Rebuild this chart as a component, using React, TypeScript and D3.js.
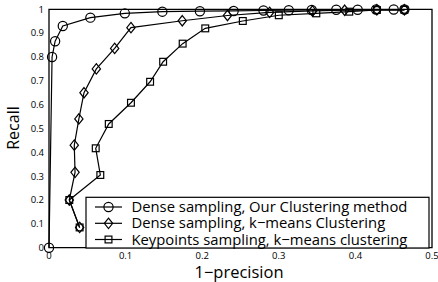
import React from "react";
import * as d3 from "d3";

const xTicks = [0, 0.1, 0.2, 0.3, 0.4, 0.5];
const xTickLabels = ["0", "0.1", "0.2", "0.3", "0.4", "0.5"];
const yTicks = [0, 0.1, 0.2, 0.3, 0.4, 0.5, 0.6, 0.7, 0.8, 0.9, 1];
const yTickLabels = ["0", "0.1", "0.2", "0.3", "0.4", "0.5", "0.6", "0.7", "0.8", "0.9", "1"];

const seriesNames = [
  "Dense sampling, Our Clustering method",
  "Dense sampling, k\u2212means Clustering",
  "Keypoints sampling, k\u2212means clustering",
];
const seriesMarkers = ["circle", "diamond", "square"];

const ourX = [0, 0.004, 0.008, 0.018, 0.054, 0.099, 0.148, 0.197, 0.241, 0.28, 0.313, 0.343, 0.375, 0.403, 0.427, 0.45, 0.464];
const ourY = [0, 0.8, 0.866, 0.93, 0.965, 0.983, 0.99, 0.992, 0.993, 0.995, 0.996, 0.997, 0.998, 0.998, 0.999, 0.999, 0.999];

const kmX = [0.04, 0.0265, 0.034, 0.033, 0.039, 0.0457, 0.0618, 0.0857, 0.107, 0.174, 0.233, 0.288, 0.344, 0.386, 0.428, 0.464];
const kmY = [0.085, 0.2, 0.316, 0.43, 0.54, 0.65, 0.75, 0.836, 0.923, 0.952, 0.974, 0.987, 0.993, 0.996, 0.998, 0.998];

const kpX = [0.04, 0.0265, 0.067, 0.061, 0.078, 0.107, 0.132, 0.149, 0.1745, 0.204, 0.253, 0.3, 0.349, 0.392, 0.428, 0.464];
const kpY = [0.085, 0.2, 0.305, 0.417, 0.519, 0.608, 0.696, 0.78, 0.856, 0.92, 0.951, 0.975, 0.983, 0.99, 0.997, 0.998];

const seriesX = [ourX, kmX, kpX];
const seriesY = [ourY, kmY, kpY];

const W = 438;
const H = 282;
const FONT = "'Open Sans', 'DejaVu Sans', sans-serif";

function Marker({ type, cx, cy }: { type: string; cx: number; cy: number }) {
  const common = { fill: "none", stroke: "#000", strokeWidth: 1.2 };
  if (type === "circle") return <circle cx={cx} cy={cy} r={4.6} {...common} />;
  if (type === "diamond") {
    const r = 5.2;
    return <path d={`M${cx},${cy - r}L${cx + r * 0.8},${cy}L${cx},${cy + r}L${cx - r * 0.8},${cy}Z`} {...common} />;
  }
  const s = 3.4;
  return <rect x={cx - s} y={cy - s} width={2 * s} height={2 * s} {...common} />;
}

export default function App() {
  const x = d3.scaleLinear().domain([0, 0.5]).range([49, 432]);
  const y = d3.scaleLinear().domain([0, 1]).range([247.7, 9.3]);
  const line = d3
    .line<[number, number]>()
    .x((d) => x(d[0]))
    .y((d) => y(d[1]));

  const legendX = 86;
  const legendY = 197.3;
  const legendW = 343;
  const legendH = 50.7;
  const rowYs = [207, 223.3, 239.5];

  return (
    <svg width={W} height={H} style={{ position: "absolute", left: 0, top: 0 }} fontFamily={FONT}>
      <rect x={0} y={0} width={W} height={H} fill="#fff" />
      <path
        d={`M${x(0)},${y(0)}L${x(0)},${y(1)}L${x(0.5)},${y(1)}L${x(0.5)},${y(0)}Z`}
        fill="none"
        stroke="#000"
        strokeWidth={1.3}
      />
      {seriesX.map((xs, i) => {
        const pts = xs.map((v, j) => [v, seriesY[i][j]] as [number, number]);
        return (
          <g key={i}>
            <path d={line(pts) || ""} fill="none" stroke="#000" strokeWidth={1.2} />
            {pts.map((p, j) => (
              <Marker key={j} type={seriesMarkers[i]} cx={x(p[0])} cy={y(p[1])} />
            ))}
          </g>
        );
      })}
      {yTicks.map((t, i) => (
        <text key={i} x={x(0) - 5} y={y(t)} dy="0.35em" textAnchor="end" fontSize={9.5} fill="#000">
          {yTickLabels[i]}
        </text>
      ))}
      {xTicks.map((t, i) => (
        <text key={i} x={x(t)} y={256} dy="0.35em" textAnchor="middle" fontSize={9.5} fill="#000">
          {xTickLabels[i]}
        </text>
      ))}
      <text x={239} y={272} dy="0.35em" textAnchor="middle" fontSize={16.5} fill="#000">
        1{"\u2212"}precision
      </text>
      <text
        transform={`translate(13,128) rotate(-90)`}
        textAnchor="middle"
        dy="0.35em"
        fontSize={16}
        fill="#000"
      >
        Recall
      </text>
      <rect x={legendX} y={legendY} width={legendW} height={legendH} fill="#fff" stroke="#000" strokeWidth={1.2} />
      {seriesNames.map((name, i) => (
        <g key={i}>
          <line x1={95} x2={122} y1={rowYs[i]} y2={rowYs[i]} stroke="#000" strokeWidth={1.2} />
          <Marker type={seriesMarkers[i]} cx={108.5} cy={rowYs[i]} />
          <text x={131.5} y={rowYs[i]} dy="0.35em" fontSize={14.8} fill="#000">
            {name}
          </text>
        </g>
      ))}
    </svg>
  );
}
